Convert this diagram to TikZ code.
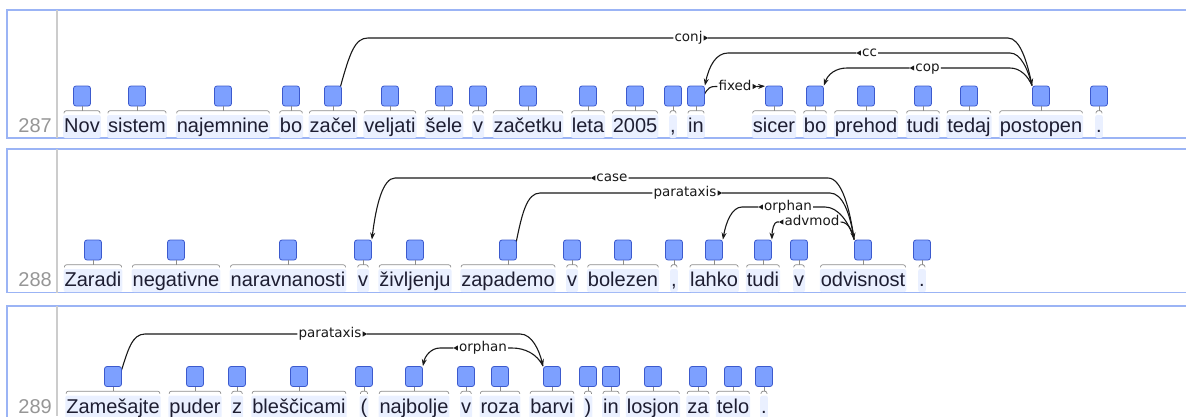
\documentclass[tikz,border=0pt]{standalone}
\usepackage{fontspec}
\setmainfont{Liberation Sans}
\newfontfamily\lblfont{DejaVu Sans}
\usetikzlibrary{calc,arrows.meta}
\pgfdeclarelayer{background}
\pgfsetlayers{background,main}
\definecolor{framec}{RGB}{155,180,245}
\definecolor{sepc}{RGB}{204,204,204}
\definecolor{hlc}{RGB}{234,240,255}
\definecolor{boxf}{RGB}{125,160,255}
\definecolor{boxd}{RGB}{60,90,205}
\definecolor{wordc}{RGB}{30,30,50}
\definecolor{numc}{RGB}{150,150,150}
\definecolor{bracec}{RGB}{140,140,140}
\definecolor{arcc}{RGB}{25,25,25}
\tikzset{
 word/.style={anchor=base, fill=hlc, rounded corners=2pt, text=wordc, font=\fontsize{20}{24}\selectfont, text height=16pt, text depth=4pt, inner xsep=1pt, inner ysep=1.5pt},
 tbox/.style={draw=boxd, fill=boxf, line width=0.8pt, rounded corners=2.5pt, minimum width=17pt, minimum height=20pt, inner sep=0pt},
 bracel/.style={draw=bracec, line width=0.7pt},
 rownum/.style={anchor=base east, text=numc, font=\fontsize{20}{24}\selectfont, inner sep=0pt},
 lbl/.style={text=arcc, font=\lblfont\fontsize{13.5}{16}\selectfont, text height=8.5pt, text depth=1.5pt, inner xsep=1pt, inner ysep=0pt},
 arc/.style={draw=arcc, line width=1.1pt},
 tip/.style={-{Stealth[length=7pt,width=5pt]}},
 frame/.style={draw=framec, line width=1.5pt},
 sepline/.style={draw=sepc, line width=2pt},
}
\newcommand\mktok[4]{%
 \node[word] (#1) at (#2,#3) {#4};
 \node[tbox] (#1b) at (#2,#3-36.5) {};
 \draw[bracel, rounded corners=2pt] ($(#1.north west)+(1,-1.5)$) |- ($(#1.north)+(0,-4)$) -| ($(#1.north east)+(-1,-1.5)$);
 \draw[bracel] ($(#1.north)+(0,-4)$) -- (#1b.south);
}
\newcommand\mkR[1]{\fill[arcc] ($(#1.east)+(0,-2.6)$) -- ++(4.5,2.6) -- ++(-4.5,2.6) -- cycle;}
\newcommand\mkL[1]{\fill[arcc] ($(#1.west)+(0,-2.6)$) -- ++(-4.5,2.6) -- ++(4.5,2.6) -- cycle;}
\begin{document}
\begin{tikzpicture}[x=1pt,y=-1pt]
\useasboundingbox (0,0) rectangle (1186,416);
% row numbers
\node[rownum] (n287) at (52,132.5) {287};
\node[rownum] (n288) at (52,286.5) {288};
\node[rownum] (n289) at (52,413) {289};
% row 1
\mktok{a1}{82}{132.5}{Nov}
\mktok{a2}{137}{132.5}{sistem}
\mktok{a3}{223}{132.5}{najemnine}
\mktok{a4}{291}{132.5}{bo}
\mktok{zacel}{333}{132.5}{začel}
\mktok{a6}{390}{132.5}{veljati}
\mktok{a7}{444}{132.5}{šele}
\mktok{a8}{478}{132.5}{v}
\mktok{a9}{528}{132.5}{začetku}
\mktok{a10}{588}{132.5}{leta}
\mktok{a11}{635}{132.5}{2005}
\mktok{a12}{673}{132.5}{,}
\mktok{inA}{696}{132.5}{in}
\mktok{sicer}{774}{132.5}{sicer}
\mktok{boB}{815}{132.5}{bo}
\mktok{a16}{866}{132.5}{prehod}
\mktok{a17}{923}{132.5}{tudi}
\mktok{a18}{969}{132.5}{tedaj}
\mktok{postopen}{1041}{132.5}{postopen}
\mktok{a20}{1099}{132.5}{.}
% row 2
\mktok{b1}{93}{286.5}{Zaradi}
\mktok{b2}{176}{286.5}{negativne}
\mktok{b3}{288}{286.5}{naravnanosti}
\mktok{vB}{363}{286.5}{v}
\mktok{b5}{415}{286.5}{življenju}
\mktok{zap}{508}{286.5}{zapademo}
\mktok{b7}{572}{286.5}{v}
\mktok{b8}{623}{286.5}{bolezen}
\mktok{b9}{674}{286.5}{,}
\mktok{lahko}{714}{286.5}{lahko}
\mktok{tudiB}{763}{286.5}{tudi}
\mktok{b12}{799}{286.5}{v}
\mktok{odv}{863}{286.5}{odvisnost}
\mktok{b14}{922}{286.5}{.}
% row 3
\mktok{zam}{113}{413}{Zamešajte}
\mktok{c2}{195}{413}{puder}
\mktok{c3}{237}{413}{z}
\mktok{c4}{299}{413}{bleščicami}
\mktok{c5}{364}{413}{(}
\mktok{naj}{414}{413}{najbolje}
\mktok{c7}{466}{413}{v}
\mktok{c8}{500}{413}{roza}
\mktok{barvi}{552}{413}{barvi}
\mktok{c10}{588}{413}{)}
\mktok{c11}{611}{413}{in}
\mktok{c12}{653}{413}{losjon}
\mktok{c13}{698}{413}{za}
\mktok{c14}{733}{413}{telo}
\mktok{c15}{764}{413}{.}
% labels
\node[lbl] (conjL) at (688.5,38) {conj};
\node[lbl] (ccL) at (869.5,53) {cc};
\node[lbl] (fixedL) at (735,86.5) {fixed};
\node[lbl] (copL) at (927.5,68) {cop};
\node[lbl] (caseL) at (612,178) {case};
\node[lbl] (paraBL) at (685,193) {parataxis};
\node[lbl] (orphBL) at (788,207) {orphan};
\node[lbl] (advL) at (812,222) {advmod};
\node[lbl] (paraCL) at (330,334) {parataxis};
\node[lbl] (orphCL) at (483,348) {orphan};
\mkR{conjL} \mkL{ccL} \mkR{fixedL} \mkL{copL}
\mkL{caseL} \mkR{paraBL} \mkL{orphBL} \mkL{advL}
\mkR{paraCL} \mkL{orphCL}
\begin{pgfonlayer}{background}
% frames
\draw[frame] (7,10) rectangle (1200,138);
\draw[frame] (7,149) rectangle (1200,292.5);
\draw[frame] (7,306) rectangle (1200,440);
\draw[sepline] (57,10) -- (57,138);
\draw[sepline] (57,149) -- (57,292.5);
\draw[sepline] (57,306) -- (57,416);
% row 1 arcs
\draw[arc] ($(zacelb.north east)+(-2,3)$) .. controls (350,52) and (355,38) .. (368,38) -- (conjL.west);
\draw[arc,tip] ($(conjL.east)+(4.5,0)$) -- (1008,38) .. controls (1020,38) and (1027,62) .. (postopenb.north west);
\draw[arc,tip] ($(ccL.west)+(-4.5,0)$) -- (728,53) .. controls (716,53) and (709,66) .. (inAb.north east);
\draw[arc] (ccL.east) -- (1010,53) .. controls (1021,53) and (1028,70) .. (postopenb.north west);
\draw[arc] ($(inAb.east)+(-1,-1)$) .. controls (708,88) and (710,86.5) .. (715,86.5) -- (fixedL.west);
\draw[arc,tip] ($(fixedL.east)+(4.5,0)$) -- ($(sicerb.north west)+(0,0.5)$);
\draw[arc,tip] ($(copL.west)+(-4.5,0)$) -- (847,68) .. controls (836,68) and (828,74) .. (boBb.north east);
\draw[arc] (copL.east) -- (1010,68) .. controls (1020,68) and (1028,76) .. (postopenb.north west);
% row 2 arcs
\draw[arc,tip] ($(caseL.west)+(-4.5,0)$) -- (395,178) .. controls (383,178) and (376,205) .. (vBb.north east);
\draw[arc] (caseL.east) -- (828,178) .. controls (842,178) and (850,210) .. (odvb.north west);
\draw[arc] ($(zapb.north east)+(-1,4)$) .. controls (522,213) and (527,193) .. (540,193) -- (paraBL.west);
\draw[arc,tip] ($(paraBL.east)+(4.5,0)$) -- (830,193) .. controls (843,193) and (850,215) .. (odvb.north west);
\draw[arc,tip] ($(orphBL.west)+(-4.5,0)$) -- (742,207) .. controls (732,207) and (726,222) .. (lahkob.north east);
\draw[arc] (orphBL.east) -- (825,207) .. controls (838,207) and (849,222) .. (odvb.north west);
\draw[arc,tip] ($(advL.west)+(-4.5,0)$) -- (777,222) .. controls (774,222) and (772,230) .. (tudiBb.north east);
\draw[arc] (advL.east) .. controls (848,222) and (852,230) .. (odvb.north west);
% row 3 arcs
\draw[arc] ($(zamb.north east)+(-1,6)$) .. controls (128,350) and (132,334) .. (145,334) -- (paraCL.west);
\draw[arc,tip] ($(paraCL.east)+(4.5,0)$) -- (520,334) .. controls (532,334) and (539,350) .. (barvib.north west);
\draw[arc,tip] ($(orphCL.west)+(-4.5,0)$) -- (440,348) .. controls (431,348) and (425,356) .. (najb.north east);
\draw[arc] (orphCL.east) -- (512,348) .. controls (525,348) and (537,354) .. (barvib.north west);
\end{pgfonlayer}
\end{tikzpicture}
\end{document}
